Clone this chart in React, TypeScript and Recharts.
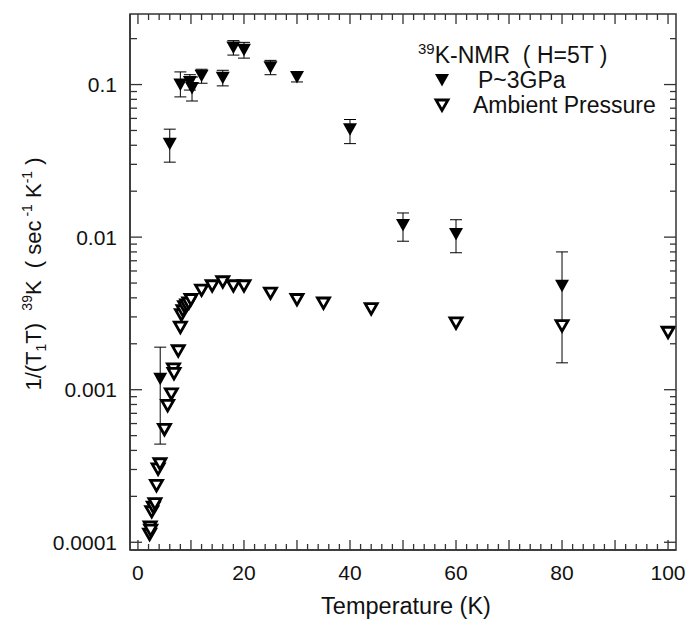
import React from "react"
import { ScatterChart, Scatter, XAxis, YAxis, ErrorBar } from "recharts"

const FONT = "'Liberation Sans', Arial, Helvetica, sans-serif"
const AXIS = "#333"

// P~3GPa (filled triangles)
const highPTemp = [4.2, 6, 8, 9.8, 10.2, 12, 16, 18, 20, 25, 30, 40, 50, 60, 80]
const highPRate = [0.00118, 0.041, 0.1, 0.104, 0.095, 0.114, 0.111, 0.175, 0.169, 0.13, 0.112, 0.051, 0.012, 0.0105, 0.0048]
const highPErrLow = [0.00074, 0.01, 0.017, 0.012, 0.017, 0.012, 0.013, 0.019, 0.02, 0.014, 0.008, 0.01, 0.0026, 0.0026, 0.0033]
const highPErrHigh = [0.00072, 0.01, 0.021, 0.012, 0.017, 0.012, 0.013, 0.019, 0.02, 0.014, 0.008, 0.008, 0.0024, 0.0025, 0.0032]

// Ambient pressure (open triangles)
const ambTemp = [
  2.2, 2.3, 2.4, 2.6, 2.9, 3.2, 3.5, 3.8, 4.15, 5.0, 5.6, 6.3, 6.7, 6.8, 7.6, 8.0, 8.2, 8.5, 8.8, 9.2, 9.6,
  10, 12, 14, 16, 18, 20, 25, 30, 35, 44, 60, 80, 100,
]
const ambRate = [
  0.000113, 0.000126, 0.00012, 0.000159, 0.00017, 0.000179, 0.000236, 0.000303, 0.000327, 0.00055, 0.00079,
  0.00094, 0.00137, 0.00128, 0.0018, 0.00257, 0.0031, 0.0033, 0.0035, 0.0036, 0.0037, 0.0039, 0.0045, 0.0048,
  0.0051, 0.0048, 0.0048, 0.0043, 0.0039, 0.0037, 0.0034, 0.00274, 0.00263, 0.00238,
]

const xLabelTicks = [0, 20, 40, 60, 80, 100]
const xMinorTicks = Array.from({ length: 51 }, (_, i) => i * 2)
const yLabelTicks = [0.0001, 0.001, 0.01, 0.1]
const yAllTicks = yLabelTicks.flatMap((d) => [1, 2, 3, 4, 5, 6, 7, 8, 9].map((m) => m * d)).filter((v) => v < 0.29)

const X_DOMAIN = [-1.5, 101.5]
const Y_DOMAIN = [0.000089, 0.29]

// plot box (chart 690x624, margin top 14 / right 14, y axis 130 wide, x axis 74 high)
const BOX = { left: 130, right: 676, top: 14, bottom: 550 }

const highP = highPTemp.map((t, i) => ({ t, rate: highPRate[i], err: [highPErrLow[i], highPErrHigh[i]] }))
const ambient = ambTemp.map((t, i) => ({ t, rate: ambRate[i] }))

const isDecade = (v: number) => yLabelTicks.some((d) => Math.abs(v - d) / d < 1e-6)

// same mapping as the chart's linear x / log y axes, used for the inward tick marks
const sx = (t: number) => BOX.left + ((t - X_DOMAIN[0]) / (X_DOMAIN[1] - X_DOMAIN[0])) * (BOX.right - BOX.left)
const sy = (v: number) =>
  BOX.bottom -
  ((Math.log10(v) - Math.log10(Y_DOMAIN[0])) / (Math.log10(Y_DOMAIN[1]) - Math.log10(Y_DOMAIN[0]))) *
    (BOX.bottom - BOX.top)

const Filled = ({ cx, cy }: any) => (
  <path d={`M${cx - 7},${cy - 6} L${cx + 7},${cy - 6} L${cx},${cy + 6.5} Z`} fill="#000" />
)
const Open = ({ cx, cy }: any) => (
  <path
    d={`M${cx - 6},${cy - 5} L${cx + 6},${cy - 5} L${cx},${cy + 5.5} Z`}
    fill="#fff"
    stroke="#000"
    strokeWidth={2.8}
  />
)

const tickFont = { fontSize: 21, fontFamily: FONT, fill: "#111" }
const line = { stroke: AXIS, strokeWidth: 1.5 }

const Overlay = () => (
  <svg width={690} height={624} style={{ position: "absolute", left: 0, top: 0, pointerEvents: "none" }}>
    <rect
      x={BOX.left}
      y={BOX.top}
      width={BOX.right - BOX.left}
      height={BOX.bottom - BOX.top}
      fill="none"
      stroke={AXIS}
      strokeWidth={1.5}
    />
    <g stroke={AXIS} strokeWidth={1.3}>
      {xMinorTicks.map((t) => {
        const x = sx(t)
        const len = t % 10 === 0 ? 10 : 6
        return (
          <g key={`x${t}`}>
            <line x1={x} x2={x} y1={BOX.bottom} y2={BOX.bottom - len} />
            <line x1={x} x2={x} y1={BOX.top} y2={BOX.top + len} />
          </g>
        )
      })}
      {yAllTicks.map((v, i) => {
        const y = sy(v)
        const major = isDecade(v)
        return (
          <g key={`y${i}`}>
            <line x1={BOX.left} x2={BOX.left + (major ? 12 : 7)} y1={y} y2={y} />
            <line x1={BOX.right} x2={BOX.right - (major ? 12 : 6)} y1={y} y2={y} />
          </g>
        )
      })}
    </g>
    <g fontFamily={FONT} fill="#111">
      <text transform="translate(41,274) rotate(-90)" textAnchor="middle" fontSize={22} style={{ whiteSpace: "pre" }}>
        <tspan>1/(T</tspan>
        <tspan fontSize={14} dy={5}>1</tspan>
        <tspan dy={-5}>T)  </tspan>
        <tspan fontSize={14} dy={-9}>39</tspan>
        <tspan dy={9}>K  ( sec</tspan>
        <tspan fontSize={14} dy={-9}> -1</tspan>
        <tspan dy={9}> K</tspan>
        <tspan fontSize={14} dy={-9}>-1</tspan>
        <tspan dy={9}> )</tspan>
      </text>
      <text x={406} y={614} textAnchor="middle" fontSize={23.5}>
        Temperature (K)
      </text>
      <text x={418} y={63} fontSize={23} style={{ whiteSpace: "pre" }}>
        <tspan fontSize={15} dy={-9}>39</tspan>
        <tspan dy={9}>K-NMR  ( H=5T )</tspan>
      </text>
      <Filled cx={442} cy={80} />
      <text x={478} y={88} fontSize={23}>P~3GPa</text>
      <Open cx={442} cy={105} />
      <text x={473} y={113} fontSize={23}>Ambient Pressure</text>
    </g>
  </svg>
)

export default function App() {
  return (
    <div style={{ position: "absolute", left: 0, top: 0, width: 690, height: 624, background: "#fff" }}>
      <ScatterChart width={690} height={624} margin={{ top: 14, right: 14, bottom: 0, left: 0 }}>
        <XAxis
          xAxisId="b"
          dataKey="t"
          type="number"
          domain={X_DOMAIN}
          allowDataOverflow
          ticks={xLabelTicks}
          interval={0}
          height={74}
          tickSize={0}
          tickMargin={15}
          tick={tickFont}
          tickLine={false}
          axisLine={line}
        />
        <YAxis
          yAxisId="l"
          dataKey="rate"
          type="number"
          scale="log"
          domain={Y_DOMAIN}
          allowDataOverflow
          ticks={yLabelTicks}
          interval={0}
          width={130}
          tickSize={0}
          tickMargin={13}
          tick={tickFont}
          tickFormatter={(v: number) => String(v)}
          tickLine={false}
          axisLine={line}
        />
        <Scatter xAxisId="b" yAxisId="l" data={ambient} shape={<Open />} isAnimationActive={false} />
        <Scatter xAxisId="b" yAxisId="l" data={highP} shape={<Filled />} isAnimationActive={false}>
          <ErrorBar dataKey="err" direction="y" width={6} stroke="#000" strokeWidth={1} />
        </Scatter>
      </ScatterChart>
      <Overlay />
    </div>
  )
}
